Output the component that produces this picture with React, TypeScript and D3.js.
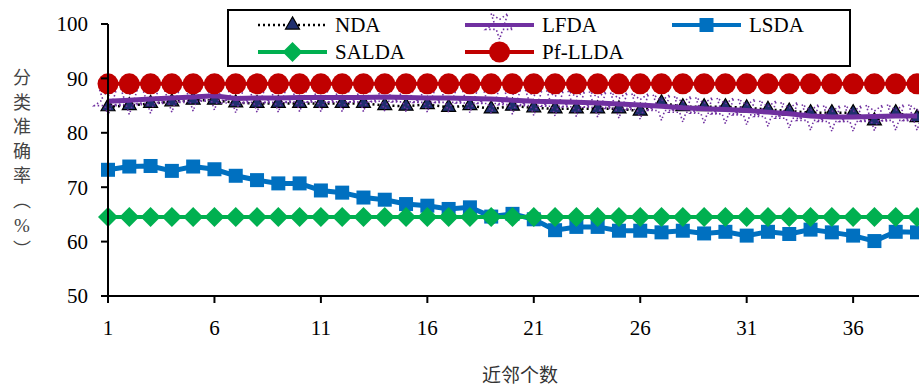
import * as d3 from 'd3';

const xs = d3.range(1, 40);
const xTicks = [1, 6, 11, 16, 21, 26, 31, 36];
const yTicks = [50, 60, 70, 80, 90, 100];

const nda = [84.8, 85.0, 85.4, 85.7, 86.0, 86.0, 85.5, 85.4, 85.4, 85.4, 85.4, 85.4, 85.4, 85.0, 84.9, 85.2, 84.7, 85.0, 84.4, 84.9,
  84.6, 84.4, 84.4, 84.4, 84.4, 84.0, 85.5, 84.8, 84.8, 84.8, 84.6, 84.3, 84.0, 83.7, 83.7, 83.7, 82.2, 83.7, 82.8];
const lfda = [85.8, 86.0, 86.2, 86.4, 86.6, 86.8, 86.3, 86.4, 86.4, 86.5, 86.5, 86.5, 86.5, 86.6, 86.5, 86.4, 86.4, 86.3, 86.2, 86.0,
  85.8, 85.7, 85.6, 85.5, 85.3, 85.1, 84.9, 84.6, 84.4, 84.3, 84.1, 83.8, 83.5, 83.1, 82.9, 82.9, 83.0, 83.1, 83.1];
const lsda = [73.2, 73.8, 73.9, 73.0, 73.8, 73.3, 72.1, 71.3, 70.7, 70.7, 69.4, 69.0, 68.1, 67.7, 66.9, 66.6, 66.0, 66.3, 64.6, 65.1,
  64.1, 62.1, 62.7, 62.7, 62.0, 62.0, 61.7, 62.0, 61.5, 61.8, 61.1, 61.8, 61.4, 62.2, 61.7, 61.1, 60.1, 61.8, 61.7];
const salda = xs.map(() => 64.5);
const pfllda = xs.map(() => 89.0);

const W = 919;
const H = 387;
const serif = '"Liberation Serif", "Times New Roman", serif';
const cjk = '"Noto Sans CJK SC", sans-serif';

const x = d3.scaleLinear().domain([1, 39]).range([108, 917]);
const y = d3.scaleLinear().domain([50, 100]).range([296, 24]);

const line = d3.line<number>().x((_, i) => x(xs[i])).y((d) => y(d));

const tri = d3.symbol(d3.symbolTriangle, 85)() as string;
const star = d3.symbol(d3.symbolStar, 230)() as string;
const diamond = 'M0,-10L10,0L0,10L-10,0Z';

type Mark = 'tri' | 'star' | 'sq' | 'dia' | 'circ';

const marker = (m: Mark, key: string | number, cx: number, cy: number) => {
  const t = `translate(${cx},${cy})`;
  if (m === 'tri') return <path key={key} d={tri} transform={t} fill="#1f2f6e" stroke="#000" strokeWidth={1.2} />;
  if (m === 'star')
    return <path key={key} d={star} transform={`${t} rotate(180)`} fill="none" stroke="#7030a0" strokeWidth={1.6} strokeDasharray="1.5,2.5" />;
  if (m === 'sq') return <rect key={key} x={cx - 7} y={cy - 7} width={14} height={14} fill="#0070c0" />;
  if (m === 'dia') return <path key={key} d={diamond} transform={t} fill="#00b050" />;
  return <circle key={key} cx={cx} cy={cy} r={10.5} fill="#c00000" />;
};

const series: { name: string; data: number[]; color: string; width: number; dash?: string; mark: Mark }[] = [
  { name: 'NDA', data: nda, color: '#000', width: 2.5, dash: '2,3', mark: 'tri' },
  { name: 'LFDA', data: lfda, color: '#7030a0', width: 5, mark: 'star' },
  { name: 'LSDA', data: lsda, color: '#0070c0', width: 5, mark: 'sq' },
  { name: 'SALDA', data: salda, color: '#00b050', width: 4, mark: 'dia' },
  { name: 'Pf-LLDA', data: pfllda, color: '#c00000', width: 4, mark: 'circ' },
];

const legendPos = [
  { x: 258, y: 25 },
  { x: 465, y: 25 },
  { x: 672, y: 25 },
  { x: 258, y: 52 },
  { x: 465, y: 52 },
];

const yTitle = ['分', '类', '准', '确', '率', '︵', '%', '︶'];

export default function App() {
  return (
    <svg width={W} height={H} style={{ position: 'absolute', left: 0, top: 0, background: '#fff' }}>
      {/* series, NDA first so Pf-LLDA sits on top */}
      {series.map((s) => (
        <g key={s.name}>
          {s.mark === 'star' ? (
            <>
              {s.data.map((d, i) => marker(s.mark, i, x(xs[i]), y(d)))}
              <path d={line(s.data) as string} fill="none" stroke={s.color} strokeWidth={s.width} />
            </>
          ) : (
            <>
              <path d={line(s.data) as string} fill="none" stroke={s.color} strokeWidth={s.width} strokeDasharray={s.dash} />
              {s.data.map((d, i) => marker(s.mark, i, x(xs[i]), y(d)))}
            </>
          )}
        </g>
      ))}

      {/* axes */}
      <line x1={108} x2={108} y1={y(100)} y2={y(50)} stroke="#000" strokeWidth={2} />
      <line x1={108} x2={W} y1={y(50)} y2={y(50)} stroke="#000" strokeWidth={2} />
      {yTicks.map((t) => (
        <g key={t}>
          <line x1={101} x2={108} y1={y(t)} y2={y(t)} stroke="#000" strokeWidth={2} />
          <text x={88} y={y(t)} dy="0.35em" textAnchor="end" fontFamily={serif} fontSize={21} fill="#000">
            {t}
          </text>
        </g>
      ))}
      {xTicks.map((t) => (
        <g key={t}>
          <line x1={x(t)} x2={x(t)} y1={y(50)} y2={y(50) + 7} stroke="#000" strokeWidth={2} />
          <text x={x(t)} y={328} dy="0.35em" textAnchor="middle" fontFamily={serif} fontSize={21} fill="#000">
            {t}
          </text>
        </g>
      ))}

      {/* axis titles */}
      <text x={520} y={375} dy="0.35em" textAnchor="middle" fontFamily={cjk} fontSize={19} fill="#333">
        近邻个数
      </text>
      {yTitle.map((c, i) => (
        <text key={i} x={22} y={78 + i * 24.5} dy="0.35em" textAnchor="middle" fontFamily={c === '%' ? serif : cjk} fontSize={c === '%' ? 19 : 18} fill="#444">
          {c}
        </text>
      ))}

      {/* legend */}
      <rect x={228} y={10} width={622} height={56} fill="#fff" stroke="#000" strokeWidth={2} />
      {series.map((s, i) => {
        const p = legendPos[i];
        return (
          <g key={s.name}>
            <line x1={p.x} x2={p.x + 69} y1={p.y} y2={p.y} stroke={s.color} strokeWidth={s.mark === 'tri' ? 2.5 : 4} strokeDasharray={s.dash} />
            {marker(s.mark, 'm', p.x + 34.5, p.y)}
            <text x={p.x + 77} y={p.y} dy="0.35em" fontFamily={serif} fontSize={21} fill="#000">
              {s.name}
            </text>
          </g>
        );
      })}
    </svg>
  );
}
